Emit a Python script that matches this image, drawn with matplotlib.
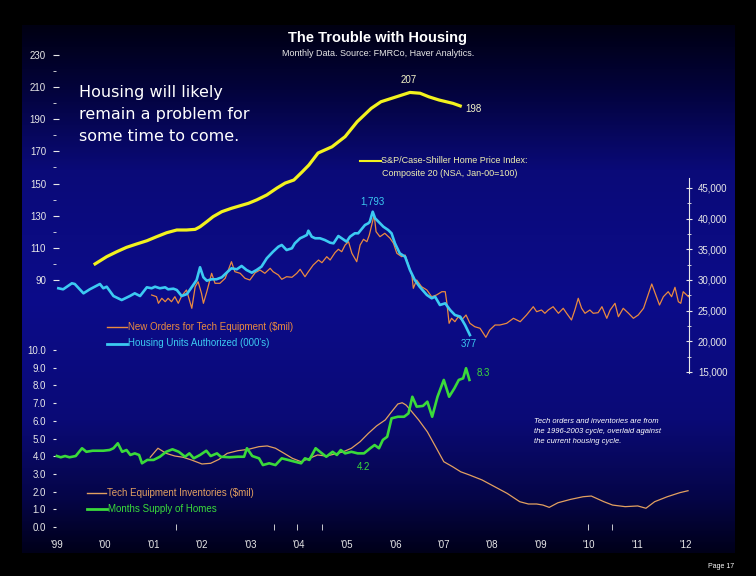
import numpy as np
import matplotlib
matplotlib.use('Agg')
import matplotlib.pyplot as plt
from matplotlib.lines import Line2D

plt.rcParams['font.family'] = ['Liberation Sans', 'DejaVu Sans']

# S&P/Case-Shiller Composite 20 (left scale, top)
hpi_x = [1999.79, 2000.03, 2000.24, 2000.44, 2000.65, 2000.86, 2001.06, 2001.27, 2001.48, 2001.68,
         2001.86, 2001.96, 2002.10, 2002.23, 2002.41, 2002.61, 2002.79, 2002.96, 2003.13, 2003.34,
         2003.55, 2003.72, 2003.90, 2004.07, 2004.21, 2004.40, 2004.69, 2004.96, 2005.21, 2005.50,
         2005.70, 2005.99, 2006.30, 2006.51, 2006.69, 2006.90, 2007.19, 2007.34]
hpi = [100.0, 104.5, 107.6, 110.3, 112.4, 114.4, 116.9, 119.4, 121.1, 121.1,
       121.5, 123.1, 126.3, 129.4, 132.5, 134.6, 136.2, 137.7, 139.8, 142.9,
       147.2, 150.3, 152.2, 157.2, 161.5, 169.0, 172.9, 179.2, 188.5, 196.8,
       200.9, 203.7, 206.7, 206.2, 204.0, 202.0, 199.9, 198.3]

# Housing units authorized (000's)
housing_x = [1999.03, 1999.13, 1999.31, 1999.37, 1999.55, 1999.68, 1999.89, 1999.96, 2000.03, 2000.17,
             2000.34, 2000.51, 2000.61, 2000.72, 2000.86, 2000.96, 2001.03, 2001.13, 2001.24, 2001.30,
             2001.41, 2001.48, 2001.58, 2001.69, 2001.82, 2001.89, 2001.96, 2002.03, 2002.10, 2002.20,
             2002.30, 2002.41, 2002.51, 2002.61, 2002.72, 2002.82, 2002.92, 2003.03, 2003.13, 2003.23,
             2003.34, 2003.47, 2003.58, 2003.65, 2003.75, 2003.86, 2003.92, 2004.03, 2004.10, 2004.17,
             2004.20, 2004.27, 2004.34, 2004.44, 2004.54, 2004.65, 2004.72, 2004.82, 2004.92, 2004.99,
             2005.06, 2005.16, 2005.23, 2005.37, 2005.44, 2005.47, 2005.53, 2005.58, 2005.65, 2005.75,
             2005.85, 2005.92, 2005.99, 2006.09, 2006.20, 2006.30, 2006.40, 2006.50, 2006.65, 2006.75,
             2006.82, 2006.92, 2007.03, 2007.13, 2007.23, 2007.34, 2007.44, 2007.54]
housing = [914, 902, 971, 963, 856, 902, 963, 914, 932, 825,
           779, 825, 856, 825, 925, 914, 932, 914, 925, 902,
           909, 894, 825, 848, 952, 1009, 1155, 1040, 1001, 1017,
           1017, 1040, 1093, 1143, 1132, 1170, 1124, 1093, 1124, 1162,
           1258, 1334, 1391, 1411, 1353, 1373, 1430, 1488, 1506, 1526,
           1575, 1506, 1488, 1488, 1468, 1437, 1430, 1514, 1476, 1449,
           1506, 1545, 1545, 1640, 1660, 1678, 1793, 1717, 1678, 1621,
           1583, 1545, 1430, 1315, 1276, 1124, 1009, 932, 837, 799,
           817, 722, 741, 665, 607, 588, 492, 377]

# New orders for tech equipment ($mil), right scale
orders_x = [2000.96, 2001.06, 2001.10, 2001.17, 2001.24, 2001.30, 2001.37, 2001.44, 2001.51, 2001.58,
            2001.68, 2001.75, 2001.79, 2001.86, 2001.92, 2001.99, 2002.03, 2002.10, 2002.20, 2002.27,
            2002.37, 2002.48, 2002.61, 2002.68, 2002.79, 2002.89, 2002.99, 2003.10, 2003.20, 2003.30,
            2003.41, 2003.47, 2003.58, 2003.65, 2003.75, 2003.86, 2003.96, 2004.03, 2004.13, 2004.20,
            2004.30, 2004.41, 2004.48, 2004.58, 2004.65, 2004.75, 2004.82, 2004.89, 2004.96, 2005.03,
            2005.10, 2005.20, 2005.27, 2005.34, 2005.41, 2005.46, 2005.51, 2005.56, 2005.60, 2005.68,
            2005.78, 2005.89, 2005.96, 2006.03, 2006.13, 2006.20, 2006.27, 2006.34, 2006.37, 2006.44,
            2006.54, 2006.65, 2006.75, 2006.85, 2006.96, 2007.03, 2007.06, 2007.11, 2007.16, 2007.23,
            2007.30, 2007.37, 2007.46, 2007.54, 2007.64, 2007.75, 2007.87, 2007.95, 2008.06, 2008.16,
            2008.30, 2008.44, 2008.58, 2008.71, 2008.85, 2008.92, 2009.02, 2009.09, 2009.16, 2009.26,
            2009.37, 2009.47, 2009.54, 2009.64, 2009.71, 2009.78, 2009.85, 2009.92, 2010.02, 2010.09,
            2010.19, 2010.27, 2010.37, 2010.44, 2010.54, 2010.61, 2010.71, 2010.82, 2010.92, 2011.02,
            2011.13, 2011.21, 2011.30, 2011.37, 2011.46, 2011.54, 2011.64, 2011.71, 2011.78, 2011.85,
            2011.90, 2011.95, 2012.06]
orders = [27554, 27276, 26200, 27016, 26461, 27016, 26461, 27276, 26200, 27391,
          28369, 26461, 25385, 28907, 29722, 27831, 26200, 28092, 31092, 29461,
          29461, 30277, 32983, 31352, 31092, 30277, 30000, 31190, 31630, 31092,
          31907, 31353, 30815, 30114, 30537, 30440, 31092, 31744, 30537, 31353,
          32445, 33260, 32820, 33798, 33260, 34451, 35005, 34614, 35706, 36244,
          34353, 32983, 35706, 36635, 36244, 37337, 38967, 40598, 37875, 37060,
          37614, 36799, 35983, 34353, 33798, 34075, 32445, 30815, 28646, 30000,
          28907, 28369, 27276, 27554, 28092, 28092, 26461, 22939, 23755, 23200,
          24015, 23477, 24292, 22939, 22385, 22124, 20656, 21847, 22662, 22662,
          22939, 23755, 23200, 24292, 25646, 24831, 25108, 24570, 25108, 25646,
          24570, 25385, 24570, 23477, 25108, 27016, 25385, 24570, 25108, 24570,
          24668, 25646, 23755, 25108, 26200, 24015, 25385, 24570, 23755, 24292,
          25385, 27276, 29347, 27831, 25923, 27276, 28092, 27276, 28809, 26461,
          26200, 28092, 27276]

# Months supply of homes (lower left scale)
months_x = [1999.00, 1999.08, 1999.17, 1999.26, 1999.39, 1999.52, 1999.61, 1999.74, 1999.96, 2000.09,
            2000.17, 2000.26, 2000.35, 2000.44, 2000.52, 2000.61, 2000.70, 2000.76, 2000.87, 2001.00,
            2001.13, 2001.26, 2001.39, 2001.52, 2001.65, 2001.74, 2001.83, 2001.96, 2002.09, 2002.18,
            2002.31, 2002.39, 2002.57, 2002.74, 2002.87, 2002.93, 2003.04, 2003.18, 2003.26, 2003.39,
            2003.52, 2003.65, 2003.78, 2003.92, 2004.05, 2004.13, 2004.22, 2004.35, 2004.44, 2004.57,
            2004.70, 2004.79, 2004.87, 2004.96, 2005.09, 2005.22, 2005.35, 2005.48, 2005.57, 2005.66,
            2005.74, 2005.83, 2005.92, 2006.05, 2006.18, 2006.27, 2006.35, 2006.44, 2006.57, 2006.66,
            2006.76, 2006.87, 2007.00, 2007.11, 2007.22, 2007.31, 2007.40, 2007.46, 2007.53]
months = [4.01, 3.94, 4.01, 3.94, 4.01, 4.45, 4.25, 4.31, 4.31, 4.35,
          4.45, 4.73, 4.25, 4.35, 4.07, 4.16, 4.07, 3.60, 3.79, 3.79,
          3.97, 4.25, 4.39, 4.25, 3.97, 4.16, 3.88, 4.07, 4.31, 4.01,
          4.16, 3.97, 3.94, 3.97, 3.97, 4.45, 4.01, 3.88, 3.50, 3.60,
          3.50, 3.88, 3.79, 3.69, 3.60, 3.88, 3.79, 4.45, 4.25, 3.97,
          4.25, 4.07, 4.35, 4.16, 4.25, 4.16, 4.16, 4.45, 4.63, 4.45,
          4.92, 5.10, 6.14, 6.23, 6.23, 6.42, 7.36, 6.80, 6.84, 7.08,
          6.23, 7.36, 8.31, 7.36, 7.84, 8.31, 8.40, 8.97, 8.31]

# Tech equipment inventories, as drawn against the lower scale
inv_x = [2000.93, 2001.09, 2001.26, 2001.44, 2001.61, 2001.78, 2002.00, 2002.18, 2002.35, 2002.52,
         2002.74, 2002.96, 2003.18, 2003.35, 2003.52, 2003.70, 2003.87, 2004.05, 2004.22, 2004.39,
         2004.57, 2004.74, 2004.92, 2005.09, 2005.27, 2005.44, 2005.61, 2005.79, 2005.92, 2006.05,
         2006.14, 2006.22, 2006.31, 2006.48, 2006.66, 2006.83, 2007.00, 2007.18, 2007.35, 2007.53,
         2007.79, 2008.05, 2008.31, 2008.57, 2008.75, 2008.92, 2009.05, 2009.18, 2009.36, 2009.62,
         2009.88, 2010.05, 2010.31, 2010.49, 2010.75, 2011.01, 2011.18, 2011.36, 2011.62, 2011.88,
         2012.05]
inv = [3.94, 4.45, 4.16, 4.01, 3.94, 3.79, 3.56, 3.60, 3.82, 4.16,
       4.31, 4.39, 4.54, 4.58, 4.45, 4.16, 3.88, 3.69, 3.88, 4.07,
       4.01, 4.12, 4.25, 4.45, 4.82, 5.29, 5.71, 6.05, 6.51, 6.95,
       7.02, 6.89, 6.61, 6.05, 5.38, 4.54, 3.69, 3.41, 3.12, 2.94,
       2.66, 2.28, 1.90, 1.43, 1.30, 1.30, 1.24, 1.11, 1.37, 1.56,
       1.71, 1.75, 1.43, 1.24, 1.15, 1.19, 1.06, 1.43, 1.71, 1.94,
       2.05]

year_ticks = list(range(1999, 2013))
year_labels = ["'%02d" % (y % 100) for y in year_ticks]
hpi_ticks = [90, 110, 130, 150, 170, 190, 210, 230]
month_ticks = [0, 1, 2, 3, 4, 5, 6, 7, 8, 9, 10]
order_ticks = [15000, 20000, 25000, 30000, 35000, 40000, 45000]

YELLOW = '#f2f21e'
CYAN = '#3ccaf2'
ORANGE = '#ea8a40'
TAN = '#e2a060'
GREEN = '#3ada3a'
TXT = '#e8e8e8'

W, H = 756, 576
fig = plt.figure(figsize=(7.56, 5.76), dpi=100, facecolor='black')

# blue gradient panel
bg = fig.add_axes([0, 0, 1, 1])
bg.set_xlim(0, W)
bg.set_ylim(H, 0)
bg.axis('off')
rows = np.arange(25, 554)
stops = [25, 90, 170, 300, 420, 500, 553]
r = np.interp(rows, stops, [0, 3, 10, 12, 10, 5, 0])
g = np.interp(rows, stops, [0, 3, 10, 12, 10, 5, 0])
b = np.interp(rows, stops, [18, 60, 120, 138, 118, 70, 25])
grad = np.stack([r, g, b], axis=1)[:, None, :] / 255.0
grad = np.repeat(grad, 2, axis=1)
bg.imshow(grad, extent=(22, 735, 553, 25), aspect='auto', interpolation='bilinear')

rect = [53 / W, (H - 530) / H, 636 / W, 490 / H]
xlim = (1998.92, 2012.07)


def layer(ylim):
    a = fig.add_axes(rect)
    a.set_facecolor('none')
    a.set_xlim(*xlim)
    a.set_ylim(*ylim)
    for s in a.spines.values():
        s.set_visible(False)
    a.set_xticks([])
    a.set_yticks([])
    return a


ax_inv = layer((-0.169, 27.514))
ax_m = layer((-0.169, 27.514))
ax_o = layer((-10763, 69131))
ax_h = layer((-1861, 3764))
ax_p = layer((-65.58, 239.33))

ax_inv.plot(inv_x, inv, color=TAN, lw=0.9)
ax_m.plot(months_x, months, color=GREEN, lw=1.9)
ax_o.plot(orders_x, orders, color=ORANGE, lw=0.9)
ax_h.plot(housing_x, housing, color=CYAN, lw=1.9)
ax_p.plot(hpi_x, hpi, color=YELLOW, lw=2.3)

# left scales
ax_p.set_yticks(hpi_ticks)
ax_p.set_yticklabels([str(t) for t in hpi_ticks])
ax_p.set_yticks([100, 120, 140, 160, 180, 200, 220], minor=True)
ax_p.tick_params(axis='y', which='both', direction='in', length=4, color=TXT,
                 labelcolor=TXT, labelsize=7, pad=5)
ax_p.tick_params(axis='y', which='minor', length=2)

ax_m.set_yticks(month_ticks)
ax_m.set_yticklabels(['%.1f' % t for t in month_ticks])
ax_m.tick_params(axis='y', direction='in', length=2, color=TXT, labelcolor=TXT,
                 labelsize=7, pad=5)

# bottom year axis
ax_m.set_xticks(year_ticks)
ax_m.set_xticklabels(year_labels)
ax_m.set_xticks([2001.47, 2003.49, 2003.97, 2004.48, 2009.98, 2010.48], minor=True)
ax_m.tick_params(axis='x', which='major', length=0, labelcolor=TXT, labelsize=7, pad=7)
ax_m.tick_params(axis='x', which='minor', direction='in', length=4, color=TXT)

# right scale
ax_o.yaxis.tick_right()
ax_o.set_yticks(order_ticks)
ax_o.set_yticklabels(['{:,}'.format(t) for t in order_ticks])
ax_o.set_yticks(list(range(17500, 45000, 5000)), minor=True)
ax_o.tick_params(axis='y', which='both', direction='inout', length=5, color=TXT,
                 labelcolor=TXT, labelsize=7, pad=4)
ax_o.tick_params(axis='y', which='minor', length=3)
ax_o.spines['right'].set_visible(True)
ax_o.spines['right'].set_color(TXT)
ax_o.spines['right'].set_linewidth(0.8)
ax_o.spines['right'].set_bounds(14800, 46600)

# data labels
ax_p.annotate('207', xy=(hpi_x[32], hpi[32]), xytext=(-1, 5), textcoords='offset points',
              ha='center', va='bottom', color='#f4f4c8', fontsize=7)
ax_p.annotate('198', xy=(hpi_x[-1], hpi[-1]), xytext=(4, -2), textcoords='offset points',
              ha='left', va='center', color='#f4f4c8', fontsize=7)
ax_h.annotate('1,793', xy=(housing_x[66], housing[66]), xytext=(0, 4), textcoords='offset points',
              ha='center', va='bottom', color=CYAN, fontsize=7)
ax_h.annotate('377', xy=(housing_x[-1], housing[-1]), xytext=(-1, -3), textcoords='offset points',
              ha='center', va='top', color=CYAN, fontsize=7)
ax_m.annotate('8.3', xy=(months_x[-1], months[-1]), xytext=(5, 5), textcoords='offset points',
              ha='left', va='center', color=GREEN, fontsize=7)
ax_m.annotate('4.2', xy=(months_x[56], months[56]), xytext=(0, -6), textcoords='offset points',
              ha='center', va='top', color=GREEN, fontsize=7)

# overlay for titles, legends and notes (pixel coordinates)
ov = fig.add_axes([0, 0, 1, 1])
ov.set_facecolor('none')
ov.set_xlim(0, W)
ov.set_ylim(H, 0)
ov.axis('off')

ov.text(378, 38, 'The Trouble with Housing', ha='center', va='center', color='white',
        fontsize=10.5, fontweight='bold')
ov.text(378, 53, 'Monthly Data. Source: FMRCo, Haver Analytics.', ha='center', va='center',
        color=TXT, fontsize=6.5)

for i, line in enumerate(['Housing will likely', 'remain a problem for', 'some time to come.']):
    ov.text(79, 93 + i * 21.7, line, ha='left', va='center', color='white', fontsize=11.5,
            family='DejaVu Sans')

ov.add_line(Line2D([360, 381], [160.5, 160.5], color=YELLOW, lw=1.5))
ov.text(381, 160.5, 'S&P/Case-Shiller Home Price Index:', ha='left', va='center',
        color='#f0f0b0', fontsize=6.5)
ov.text(382, 173, 'Composite 20 (NSA, Jan-00=100)', ha='left', va='center',
        color='#f0f0b0', fontsize=6.5)

ov.add_line(Line2D([107, 127], [327, 327], color=ORANGE, lw=1.0))
ov.text(128, 327, "New Orders for Tech Equipment ($mil)", ha='left', va='center',
        color=ORANGE, fontsize=7)
ov.add_line(Line2D([107, 127], [343.5, 343.5], color=CYAN, lw=2.0))
ov.text(128, 343.5, "Housing Units Authorized (000's)", ha='left', va='center',
        color=CYAN, fontsize=7)

ov.add_line(Line2D([87, 106], [493, 493], color=TAN, lw=1.0))
ov.text(107, 493, 'Tech Equipment Inventories ($mil)', ha='left', va='center',
        color=TAN, fontsize=7)
ov.add_line(Line2D([87, 107], [509, 509], color=GREEN, lw=2.0))
ov.text(108, 509, 'Months Supply of Homes', ha='left', va='center',
        color=GREEN, fontsize=7)

for i, line in enumerate(['Tech orders and inventories are from',
                          'the 1996-2003 cycle, overlaid against',
                          'the current housing cycle.']):
    ov.text(534, 421.5 + i * 10.2, line, ha='left', va='center', color='white',
            fontsize=5.5, style='italic')

ov.text(734, 567, 'Page 17', ha='right', va='center', color='white', fontsize=5)

fig.savefig('out.png', dpi=100, facecolor='black')
